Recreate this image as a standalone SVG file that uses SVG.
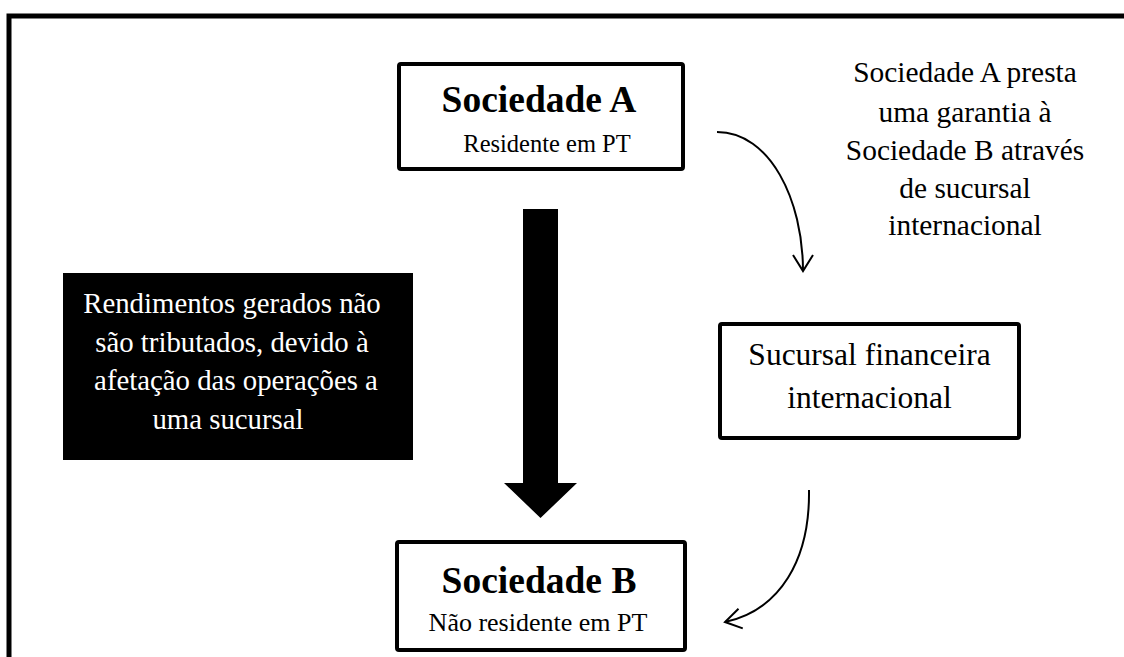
<svg xmlns="http://www.w3.org/2000/svg" width="1124" height="657" viewBox="0 0 1124 657">
  <style>
    .box { fill: #ffffff; stroke: #000000; stroke-width: 4; }
    .t { font-family: "Liberation Serif", "Times New Roman", serif; fill: #000000; text-anchor: middle; }
    .title { font-size: 37.5px; font-weight: bold; }
    .sub { font-size: 26px; }
    .sub-a { font-size: 24.5px; }
    .big { font-size: 31.5px; }
    .note { font-size: 29.4px; }
    .inv { font-size: 28.8px; fill: #ffffff; }
    .curve { fill: none; stroke: #000000; stroke-width: 2; }
  </style>
  <defs>
    <marker id="open-arrow" viewBox="0 0 20 24" refX="18" refY="12" markerWidth="20" markerHeight="24" markerUnits="userSpaceOnUse" orient="auto">
      <path d="M2,2 L18,12 L2,22" fill="none" stroke="#000000" stroke-width="2"/>
    </marker>
  </defs>

  <rect width="1124" height="657" fill="#ffffff"/>

  <!-- outer frame (top and left sides) -->
  <path d="M9,657 L9,16 L1124,16" fill="none" stroke="#000000" stroke-width="5"/>

  <g id="sociedade-a">
    <rect class="box" x="399" y="64" width="284" height="105" rx="2"/>
    <text class="t title" x="539" y="112">Sociedade A</text>
    <text class="t sub-a" x="547" y="152">Residente em PT</text>
  </g>

  <g id="sociedade-b">
    <rect class="box" x="397" y="542" width="288" height="108" rx="2"/>
    <text class="t title" x="539" y="593">Sociedade B</text>
    <text class="t sub" x="538" y="631">Não residente em PT</text>
  </g>

  <g id="sucursal">
    <rect class="box" x="720" y="324" width="299" height="114" rx="2"/>
    <text class="t big" x="869.5" y="365">Sucursal financeira</text>
    <text class="t big" x="869.5" y="408">internacional</text>
  </g>

  <g id="rendimentos">
    <rect x="63" y="273" width="350" height="187" fill="#000000"/>
    <text class="t inv" x="232" y="313">Rendimentos gerados não</text>
    <text class="t inv" x="232" y="351.5">são tributados, devido à</text>
    <text class="t inv" x="236" y="390">afetação das operações a</text>
    <text class="t inv" x="228" y="428.5">uma sucursal</text>
  </g>

  <g id="garantia-nota">
    <text class="t note" x="965" y="82">Sociedade A presta</text>
    <text class="t note" x="965" y="121.5">uma garantia à</text>
    <text class="t note" x="965" y="159.5">Sociedade B através</text>
    <text class="t note" x="965" y="197.5">de sucursal</text>
    <text class="t note" x="965" y="235">internacional</text>
  </g>

  <g id="connectors">
    <!-- block arrow from Sociedade A to Sociedade B -->
    <polygon points="523,209 558,209 558,483 577,483 540.5,518 504,483 523,483" fill="#000000"/>
    <!-- Sociedade A towards the branch -->
    <path class="curve" d="M717,132 C770,132 803,200 803,271" marker-end="url(#open-arrow)"/>
    <!-- branch towards Sociedade B -->
    <path class="curve" d="M809,490 C810,560 780,610 725,622" marker-end="url(#open-arrow)"/>
  </g>
</svg>
